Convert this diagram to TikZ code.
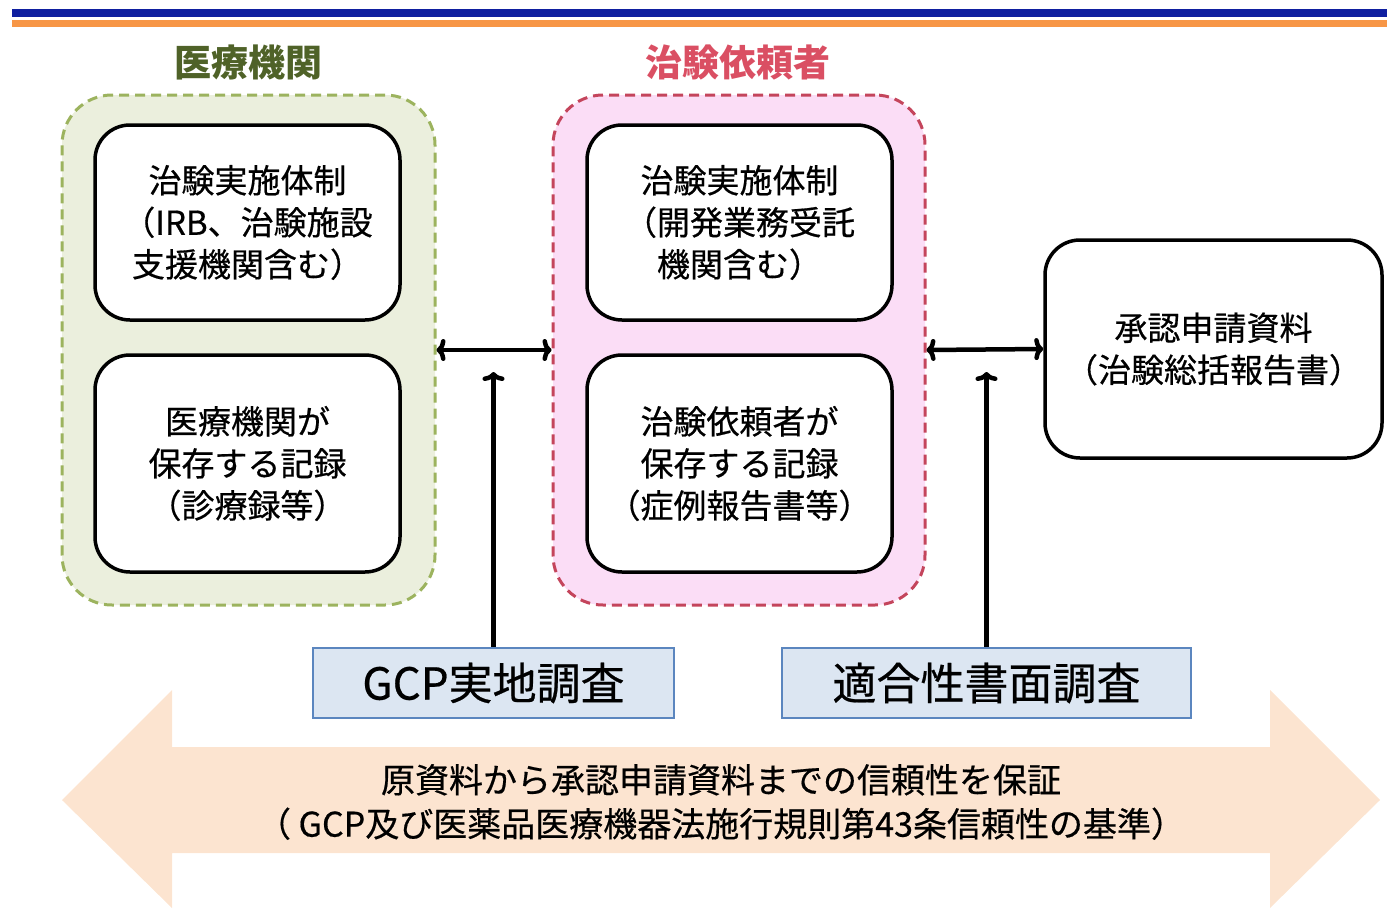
\documentclass[tikz,border=0pt]{standalone}
\usepackage{fontspec}
\setmainfont{Noto Sans CJK JP}
\newfontfamily\jpm[FakeBold=0.5]{Noto Sans CJK JP}
\usetikzlibrary{arrows.meta}
\definecolor{topblue}{HTML}{0F1FA0}
\definecolor{toporange}{HTML}{F79646}
\definecolor{grnfill}{HTML}{EBEFDD}
\definecolor{grnline}{HTML}{9CB35E}
\definecolor{grntext}{HTML}{4F6228}
\definecolor{pnkfill}{HTML}{FBDDF6}
\definecolor{pnkline}{HTML}{C4455C}
\definecolor{pnktext}{HTML}{DA4F63}
\definecolor{svfill}{HTML}{DCE6F2}
\definecolor{svline}{HTML}{5B86BF}
\definecolor{peach}{HTML}{FCE4D0}
\tikzset{
  grp/.style={draw, line width=3pt, dash pattern=on 10pt off 6pt, rounded corners=50pt,
    minimum width=373pt, minimum height=510pt},
  recbox/.style={draw=black, line width=3.5pt, fill=white, rounded corners=35pt,
    align=center, inner sep=0pt, font=\jpm\fontsize{33}{42}\selectfont},
  grptitle/.style={font=\fontsize{37}{40}\selectfont\bfseries, inner sep=0pt},
  survey/.style={draw=svline, line width=2.5pt, fill=svfill, minimum height=70pt,
    inner sep=0pt, font=\jpm\fontsize{44}{50}\selectfont},
  conn/.style={line width=4.5pt, {To[length=9pt,width=22pt]}-{To[length=9pt,width=22pt]}},
  upconn/.style={line width=4.5pt, -{To[length=9pt,width=22pt]}},
}
\begin{document}
\begin{tikzpicture}[x=1pt,y=-1pt]
\useasboundingbox (0,0) rectangle (1387,908);
% header lines
\fill[topblue] (12,9) rectangle (1387,17);
\fill[toporange] (12,20) rectangle (1387,27);
% big double arrow
\fill[peach] (62,800) -- (172,690) -- (172,747) -- (1270,747) -- (1270,690)
  -- (1380,800) -- (1270,908) -- (1270,853) -- (172,853) -- (172,908) -- cycle;
\node[align=center, font=\jpm\fontsize{34}{44}\selectfont] (guar) at (721,802)
  {原資料から承認申請資料までの信頼性を保証\\（ GCP及び医薬品医療機器法施行規則第43条信頼性の基準）};
% groups
\node[grp, draw=grnline, fill=grnfill] (g1) at (248.5,350) {};
\node[grp, draw=pnkline, fill=pnkfill, minimum width=372pt] (g2) at (739,350) {};
\node[grptitle, text=grntext] (t1) at (248,62) {医療機関};
\node[grptitle, text=pnktext] (t2) at (738,62) {治験依頼者};
% inner boxes
\node[recbox, minimum width=305pt, minimum height=195pt] (b1) at (247.5,222.5)
  {治験実施体制\\（IRB、治験施設\\支援機関含む）};
\node[recbox, minimum width=305pt, minimum height=217pt] (b2) at (247.5,463.5)
  {医療機関が\\保存する記録\\（診療録等）};
\node[recbox, minimum width=305pt, minimum height=195pt] (b3) at (739.5,222.5)
  {治験実施体制\\（開発業務受託\\機関含む）};
\node[recbox, minimum width=305pt, minimum height=217pt] (b4) at (739.5,463.5)
  {治験依頼者が\\保存する記録\\（症例報告書等）};
\node[recbox, minimum width=337pt, minimum height=218pt] (b5) at (1213.5,349)
  {承認申請資料\\（治験総括報告書）};
% survey boxes
\node[survey, minimum width=361pt] (s1) at (493.5,683) {GCP実地調査};
\node[survey, minimum width=409pt] (s2) at (986.5,683) {適合性書面調査};
% connectors
\draw[conn] (g1.east) -- (g2.west);
\draw[conn] (g2.east) -- (b5.west);
\coordinate (u1) at (493.5,372);
\coordinate (u2) at (986.5,372);
\draw[upconn] (s1.north) -- (u1);
\draw[upconn] (s2.north) -- (u2);
\end{tikzpicture}
\end{document}
